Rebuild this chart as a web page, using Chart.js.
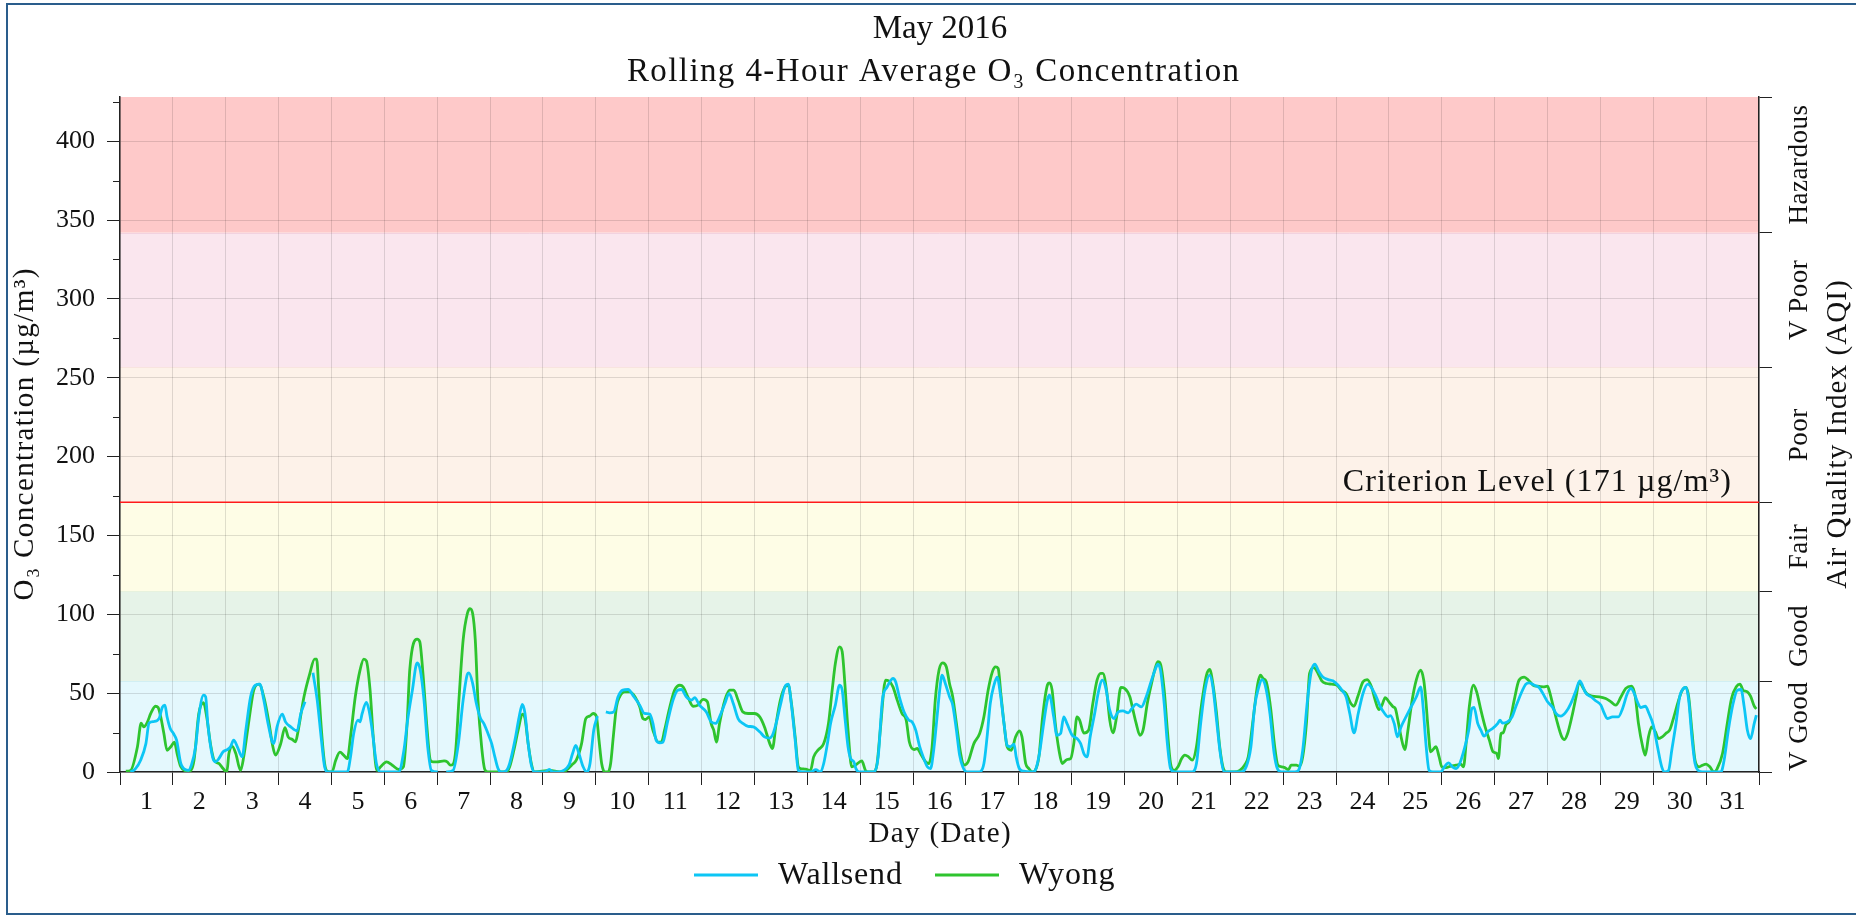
<!DOCTYPE html>
<html>
<head>
<meta charset="utf-8">
<title>May 2016 - Rolling 4-Hour Average O3 Concentration</title>
<script src="https://cdn.jsdelivr.net/npm/chart.js@4.4.0/dist/chart.umd.min.js"></script>
<style>
  html, body { margin: 0; padding: 0; background: #fff; }
  #wrap { position: relative; width: 1856px; height: 917px; }
</style>
</head>
<body>
<div id="wrap"><canvas id="o3chart"></canvas></div>
<script>
// Categories and tick labels
const dayLabels = ['1', '2', '3', '4', '5', '6', '7', '8', '9', '10', '11', '12', '13', '14', '15', '16',
  '17', '18', '19', '20', '21', '22', '23', '24', '25', '26', '27', '28', '29', '30', '31']
const yMajorTicks = [0, 50, 100, 150, 200, 250, 300, 350, 400]
const yMinorTicks = [25, 75, 125, 175, 225, 275, 325, 375, 425]
const yMax = 428

// Air quality index bands (ug/m3)
const aqiLabels = ['V Good', 'Good', 'Fair', 'Poor', 'V Poor', 'Hazardous']
const aqiLimits = [0, 57.5, 114.5, 171, 256.5, 342, 428]
const aqiColors = ['#e4f8fd', '#e6f3e8', '#fefde6', '#fdf2e9', '#fae6ee', '#fec9c9']
const aqiEdges = ['#c8eef8', '#d6ebd9', '#f3f0c8', '#f5e2d2', '#f2d2df', '#f5b5b5']
const criterionLevel = 171

// Wallsend - day of month (fractional) and rolling 4-hour O3 (ug/m3), null = missing
const wallsendDays = [
  0.20, 0.29, 0.39, 0.49, 0.55, 0.64, 0.74, 0.80, 0.85, 0.89, 0.95, 1.01, 1.07, 1.15, 1.21, 1.29, 1.35, 1.43, 1.49, 1.58,
  1.62, 1.66, 1.75, 1.81, 1.87, 1.95, 2.03, 2.09, 2.15, 2.22, 2.31, 2.38, 2.47, 2.56, 2.65, 2.72, 2.80, 2.88, 2.91, 2.97,
  3.07, 3.13, 3.23, 3.35, 3.42, 3.50, 3.58, 3.65, 3.73, 3.81, 3.87, 3.93, 4.30, 4.36, 4.42, 4.50, 4.54, 4.58, 4.66, 4.71,
  4.77, 4.85, 4.93, 5.27, 5.37, 5.44, 5.53, 5.62, 5.68, 5.75, 5.82, 5.89, 6.01, 6.10, 6.17, 6.30, 6.40, 6.49, 6.57, 6.60,
  6.67, 6.74, 6.82, 6.88, 6.96, 7.03, 7.09, 7.15, 7.21, 7.31, 7.37, 7.47, 7.55, 7.61, 7.66, 7.72, 7.78, 7.84, 8.03, 8.12,
  8.19, 8.29, 8.39, 8.49, 8.56, 8.62, 8.68, 8.76, 8.83, 8.89, 8.96, 9.03, 9.10, 9.19, 9.26, 9.34, 9.42, 9.51, 9.61, 9.72,
  9.83, 9.92, 10.02, 10.08, 10.14, 10.21, 10.27, 10.35, 10.46, 10.55, 10.62, 10.71, 10.81, 10.87, 10.96, 11.09, 11.18, 11.27, 11.34, 11.44,
  11.52, 11.60, 11.69, 11.78, 11.88, 11.98, 12.10, 12.19, 12.28, 12.34, 12.41, 12.49, 12.59, 12.64, 12.70, 12.77, 12.83, 12.90, 13.06, 13.16,
  13.25, 13.31, 13.38, 13.44, 13.53, 13.61, 13.66, 13.71, 13.77, 13.82, 13.88, 13.92, 13.98, 14.26, 14.34, 14.42, 14.51, 14.62, 14.67, 14.74,
  14.83, 14.92, 14.98, 15.05, 15.12, 15.18, 15.27, 15.33, 15.39, 15.46, 15.50, 15.55, 15.61, 15.69, 15.75, 15.82, 15.88, 15.94, 16.02, 16.24,
  16.34, 16.40, 16.46, 16.53, 16.59, 16.65, 16.72, 16.78, 16.84, 16.91, 16.95, 17.01, 17.09, 17.25, 17.31, 17.39, 17.47, 17.54, 17.58, 17.66,
  17.72, 17.79, 17.85, 17.91, 18.01, 18.10, 18.17, 18.23, 18.29, 18.35, 18.44, 18.50, 18.58, 18.64, 18.72, 18.80, 18.88, 18.97, 19.07, 19.14,
  19.22, 19.32, 19.41, 19.51, 19.58, 19.63, 19.68, 19.75, 19.81, 19.87, 19.95, 20.27, 20.36, 20.44, 20.52, 20.61, 20.67, 20.74, 20.82, 20.89,
  21.21, 21.30, 21.39, 21.46, 21.54, 21.60, 21.66, 21.75, 21.83, 21.89, 21.97, 22.22, 22.29, 22.37, 22.46, 22.53, 22.60, 22.67, 22.75, 22.85,
  22.94, 23.04, 23.11, 23.19, 23.26, 23.34, 23.42, 23.51, 23.60, 23.68, 23.76, 23.84, 23.92, 23.98, 24.03, 24.10, 24.16, 24.23, 24.33, 24.42,
  24.52, 24.60, 24.65, 24.70, 24.76, 24.83, 24.98, 25.05, 25.13, 25.20, 25.27, 25.34, 25.42, 25.51, 25.57, 25.61, 25.68, 25.74, 25.80, 25.87,
  25.96, 26.06, 26.10, 26.15, 26.24, 26.33, 26.40, 26.50, 26.59, 26.65, 26.75, 26.84, 26.94, 27.00, 27.09, 27.16, 27.25, 27.35, 27.44, 27.54,
  27.61, 27.66, 27.72, 27.82, 27.91, 28.01, 28.07, 28.13, 28.23, 28.34, 28.42, 28.51, 28.58, 28.64, 28.70, 28.76, 28.85, 28.92, 29.00, 29.08,
  29.16, 29.22, 29.29, 29.35, 29.43, 29.50, 29.57, 29.62, 29.67, 29.73, 29.79, 29.85, 29.93, 30.28, 30.34, 30.42, 30.51, 30.59, 30.66, 30.72,
  30.78, 30.84, 30.91, 30.95
]
const wallsendValues = [
  0, 2, 7.5, 18, 31, 32, 34, 41, 42.4, 35, 27.6, 24.4, 20.2, 5.4, 2, 1, 4.3, 16, 35, 48.7,
  47.7, 30.8, 9.6, 6.4, 8.5, 12.8, 14.2, 16, 20.2, 16, 9.6, 26.5, 47.7, 55, 55.7, 45.6, 30.8, 19, 18, 28.6,
  36.7, 31.8, 28.6, 26.1, 37.1, 44.5, null, 62.9, 45.6, 20.2, 3.3, 0, 0, 9.6, 24.4, 32.9, 31.8, 37.1, 44.1, 39.2,
  26.5, 5.4, 0, 0, 13.8, 32.9, 51.9, 69.2, 64.6, 45.6, 16, 1, 0, null, 0, 1, 18, 45.6, 62, 62.9,
  56.2, 43.4, 33.9, 30.8, 24.4, 18, 9.6, 2.2, 0, 1, 5.4, 20.2, 35, 42.8, 37.1, 18, 4.3, 0, 0, 1.6,
  0, 0, 1, 4.3, 11.7, 16.8, 11.7, 3.3, 0, 5.4, 26.5, 35.4, null, 38.1, 37.5, 38.1, 47.7, 51.9, 52.3, 47.7,
  42.4, 37.1, 36.7, 30.8, 20.2, 18.5, 19, 30.8, 45.6, 51.9, 52.3, 47.7, 45.6, 47.2, 42.4, 38.1, 31.8, 30.8, 35, 43.4,
  49.8, 43.4, 33.9, 30.8, 29, 28.6, 25.5, 22.3, 21.5, 23.3, 30.8, 42.4, 55, 55.7, 42.4, 20.2, 1, 0, 0, 1.5,
  0, 5.4, 18, 30.8, 42.4, 55, 51.9, 35, 16, 8.5, 6.4, 2.2, 0, 0, 9.6, 45.6, 54, 59.3, 57.2, 47.7,
  38.1, 32.9, 31.8, 26.5, 16.8, 10.7, 3.3, 2.2, 13.8, 37.1, 50.8, 61.4, 56.1, 47.7, 42.4, 26.5, 10.7, 3.3, 0, 0,
  5.4, 22.3, 43.4, 55, 60.2, 49.8, 30.8, 16.8, 16, 17.7, 9.6, 2.2, 0.5, 0, 1, 11.7, 30.8, 45.6, 48.7, 35,
  23.3, 24.4, 35, 30.8, 23.3, 21.2, 18, 11.7, 9.6, 22.3, 38, 49.8, 58.2, 54, 39.2, 33.9, 38.1, 38.7, 37.5, 40.3,
  43, 41.3, 47.7, 58.2, 65, 68.4, 64.6, 43.4, 18, 2.2, 0, 0, 5.4, 30.8, 51.9, 61.4, 54, 32.9, 9.6, 0,
  0, 3.3, 16, 41.3, 54, 58.6, 55, 37.1, 11.7, 2.2, 0, 0, 1, 13.8, 45.6, 63.5, 68.4, 64, 60.2, 58.6,
  57.8, 55, 51.9, 47.7, 37.1, 24.8, 37.1, 49.8, 55.7, 53, 47.7, 41.3, 37.1, 35, 35.8, 30.8, 22.3, 28.6, 35.4, 41.3,
  47.7, 54, 40, 18, 1, 0, 0, 3.3, 5.8, 3.3, 2.2, 5.4, 13.8, 26.5, 40.3, 40.9, 30.8, 26.5, 22.7, 25.5,
  27.6, 30.8, 32.9, 31, 31.8, 35, 41.3, 49.8, 55.7, 56.5, 55, 53.6, 48.1, 44.5, 41.3, 37.1, 35.4, 38.1, 43.4, 51.9,
  57.8, 55, 50.2, 47.7, 45.2, 42.4, 37.5, 33.9, 35, 35, 40.3, 49.8, 53, 49.8, 44.5, 40.9, 41.7, 37.1, 29.7, 16,
  3.3, 0, 1, 13.8, 30.8, 47.7, 53, 53.6, 45.6, 22.3, 5.4, 1, 0, 0, 7.5, 26.5, 43.4, 51.9, 52.3, 41.3,
  26.5, 21.2, 30.8, 36
]

// Wyong - day of month (fractional) and rolling 4-hour O3 (ug/m3)
const wyongDays = [
  0.11, 0.20, 0.33, 0.40, 0.45, 0.52, 0.58, 0.67, 0.72, 0.77, 0.83, 0.89, 0.96, 1.03, 1.08, 1.15, 1.24, 1.30, 1.40, 1.49,
  1.58, 1.64, 1.71, 1.78, 1.87, 1.95, 2.02, 2.06, 2.12, 2.19, 2.28, 2.34, 2.44, 2.53, 2.63, 2.72, 2.82, 2.88, 2.94, 3.04,
  3.12, 3.18, 3.26, 3.32, 3.36, 3.48, 3.59, 3.68, 3.72, 3.76, 3.81, 3.87, 3.92, 4.01, 4.08, 4.16, 4.23, 4.30, 4.36, 4.45,
  4.54, 4.61, 4.66, 4.73, 4.79, 4.86, 4.93, 5.04, 5.15, 5.27, 5.36, 5.43, 5.48, 5.62, 5.67, 5.73, 5.81, 5.87, 5.92, 6.00,
  6.13, 6.19, 6.25, 6.30, 6.35, 6.41, 6.49, 6.57, 6.62, 6.67, 6.72, 6.77, 6.84, 6.90, 6.96, 7.31, 7.37, 7.45, 7.53, 7.61,
  7.66, 7.72, 7.78, 7.84, 8.13, 8.32, 8.44, 8.54, 8.63, 8.73, 8.81, 8.88, 8.95, 9.01, 9.06, 9.11, 9.17, 9.23, 9.28, 9.33,
  9.39, 9.45, 9.55, 9.64, 9.74, 9.83, 9.89, 9.94, 10.01, 10.08, 10.18, 10.24, 10.30, 10.40, 10.49, 10.59, 10.65, 10.74, 10.84, 10.93,
  11.03, 11.11, 11.18, 11.23, 11.28, 11.34, 11.44, 11.53, 11.61, 11.69, 11.78, 11.88, 12.00, 12.10, 12.19, 12.29, 12.34, 12.41, 12.49, 12.58,
  12.64, 12.70, 12.77, 12.83, 12.87, 12.97, 13.06, 13.12, 13.21, 13.31, 13.40, 13.47, 13.53, 13.61, 13.66, 13.71, 13.77, 13.84, 13.91, 14.03,
  14.10, 14.16, 14.26, 14.32, 14.38, 14.48, 14.54, 14.62, 14.70, 14.79, 14.87, 14.93, 15.02, 15.08, 15.14, 15.24, 15.30, 15.36, 15.42, 15.49,
  15.56, 15.63, 15.69, 15.75, 15.82, 15.90, 15.96, 16.04, 16.15, 16.26, 16.34, 16.42, 16.50, 16.56, 16.61, 16.66, 16.72, 16.78, 16.86, 16.94,
  17.01, 17.06, 17.13, 17.19, 17.26, 17.31, 17.38, 17.45, 17.54, 17.58, 17.63, 17.69, 17.76, 17.82, 17.91, 17.98, 18.04, 18.10, 18.15, 18.23,
  18.32, 18.40, 18.48, 18.55, 18.59, 18.66, 18.72, 18.78, 18.85, 18.93, 19.00, 19.10, 19.16, 19.22, 19.29, 19.35, 19.43, 19.51, 19.57, 19.63,
  19.68, 19.75, 19.81, 19.87, 19.94, 20.01, 20.08, 20.14, 20.21, 20.28, 20.36, 20.45, 20.55, 20.61, 20.67, 20.74, 20.80, 20.86, 20.93, 21.08,
  21.18, 21.27, 21.34, 21.43, 21.52, 21.57, 21.62, 21.68, 21.76, 21.84, 21.90, 21.97, 22.03, 22.10, 22.15, 22.25, 22.31, 22.37, 22.44, 22.50,
  22.58, 22.66, 22.73, 22.82, 22.92, 23.02, 23.10, 23.19, 23.28, 23.34, 23.41, 23.51, 23.59, 23.67, 23.74, 23.81, 23.87, 23.93, 24.00, 24.08,
  24.12, 24.17, 24.23, 24.30, 24.36, 24.44, 24.52, 24.60, 24.66, 24.70, 24.74, 24.79, 24.89, 24.95, 25.00, 25.08, 25.17, 25.27, 25.36, 25.41,
  25.46, 25.52, 25.60, 25.66, 25.74, 25.82, 25.90, 25.97, 26.04, 26.07, 26.12, 26.16, 26.21, 26.29, 26.37, 26.46, 26.56, 26.64, 26.73, 26.81,
  26.92, 27.00, 27.03, 27.11, 27.19, 27.27, 27.32, 27.38, 27.46, 27.54, 27.60, 27.66, 27.74, 27.85, 27.98, 28.10, 28.20, 28.29, 28.39, 28.48,
  28.59, 28.66, 28.72, 28.80, 28.85, 28.91, 28.97, 29.04, 29.10, 29.17, 29.25, 29.31, 29.39, 29.48, 29.55, 29.62, 29.67, 29.73, 29.79, 29.87,
  29.93, 30.00, 30.07, 30.15, 30.21, 30.31, 30.40, 30.48, 30.57, 30.64, 30.70, 30.78, 30.84, 30.91, 30.95
]
const wyongValues = [
  0.5, 1, 16, 31, 28.6, 31.8, 37, 41.7, 41, 35, 24.4, 13.8, 16, 19, 11.7, 3.3, 0.7, 0.5, 7.5, 37,
  43.9, 35, 18, 7.5, 5.4, 2.2, 0, 11.7, 16.4, 11.7, 1, 9.6, 33, 52, 55.7, 47.6, 30.8, 18, 10.7, 18,
  28.2, 22.3, 20.6, 19.1, 24.4, 47.7, 62.4, 71.6, 71.6, 51.9, 26.5, 5.4, 0.5, 0, 7.5, 12.6, 10.7, 8.5, 22.3, 47.7,
  64.6, 71.6, 70.5, 51.9, 22.3, 1, 3.3, 6.4, 4.3, 1.6, 3.3, 30.8, 64.6, 84.3, 82.6, 62.5, 26.5, 7.5, 6.4, 6.4,
  7, 6.4, 4.3, 4.9, 13.8, 45.6, 83.6, 100.5, 103.6, 100.5, 83.6, 45.6, 16, 1.6, 0, 0, 3.3, 13.8, 26.5, 36.7,
  34, 18, 5.4, 0, 1, 0, 1, 4.3, 7.5, 18, 33.9, 35.4, 37.1, 35.4, 20.2, 5.4, 0, 0, 5.4, 22.3,
  41.3, 47.7, 50.8, 50.8, 47.7, 41.3, 33.9, 33.3, 35, 26.5, 19, 19, 26.5, 41.3, 51.9, 55, 54, 47.7, 41.7, 42.4,
  46, 44.5, 30.8, 26.5, 19, 30.8, 45.6, 51.9, 51.9, 45.6, 38.1, 37.1, 37.1, 35, 28.6, 18, 14.9, 30.8, 45.6, 54,
  55, 43.4, 22.3, 3.3, 2.2, 1.8, 1, 9.6, 14.2, 18, 30.8, 51.9, 68.8, 79.4, 76.2, 56.1, 26.5, 3.3, 4.3, 7,
  1, 0, 0, 5.4, 26.5, 58.2, 57.8, 54, 45.6, 37.1, 32.9, 19, 14.2, 14.9, 11.7, 6.4, 5.4, 16, 45.6, 64.5,
  69.2, 66.6, 56, 47.7, 30.8, 11.7, 4.3, 6.4, 18, 24.4, 35, 51.9, 63.5, 66.6, 65.6, 49.8, 30.8, 16, 13.8, 22.3,
  26.1, 22.3, 5.4, 2.2, 0, 1, 9.6, 35, 55, 56.5, 51.9, 30.8, 13.8, 5.4, 7.9, 8.5, 18, 35, 32.9, 24.7,
  26.5, 43.4, 58.2, 62.5, 62.5, 51.9, 32.9, 24.8, 35, 53.6, 53, 47.7, 39.2, 30.8, 23.3, 26.5, 43.4, 56.1, 64.6, 69.9,
  68.4, 51.9, 26.5, 5.4, 1, 3.3, 8.5, 10.7, 9.6, 7.5, 16, 41.3, 61.4, 65, 56.1, 37.1, 16, 3.3, 0, 0,
  1, 4.3, 9.6, 32.9, 56.1, 61.4, 59.3, 57.2, 41.3, 16, 4.3, 3.3, 2.8, 1.5, 4.3, 4.3, 3.7, 9.6, 30.8, 62.5,
  66.2, 62.5, 57.8, 56.1, 55.7, 55, 51.9, 49.8, 43.4, 41.7, 47.7, 57.2, 58.6, 54, 45.6, 39.6, 42.4, 47.2, 44.5, 41.3,
  40.3, 32.9, 22.3, 14.2, 26.5, 45.6, 58.6, 64.6, 58, 45, 28, 12.8, 16, 9.6, 3.3, 2.8, 3.7, 4.3, 5, 3.3,
  18, 41.3, 55, 50.8, 39.2, 28.6, 20.2, 12.8, 11.7, 8.5, 24.4, 24.8, 29.7, 32.9, 45.6, 58.2, 60.2, 58.2, 55, 54.4,
  54, 54.4, 51.9, 41.3, 30.8, 22.3, 20.6, 24.4, 35, 47.7, 57.2, 54, 49.8, 48.1, 47.7, 46.6, 44.5, 42.4, 47.7, 53,
  54.4, 47.7, 30.8, 16, 10.7, 22.3, 28.6, 25.5, 21.2, 22.3, 24.8, 26.5, 35, 45.6, 51.9, 53.6, 47.7, 26.5, 7.5, 3.3,
  4.3, 5, 3.3, 0, 2.2, 11.7, 30.8, 46.6, 54, 55.7, 51.9, 50.8, 48.1, 41.7, 40
]

const SERIF = '"Liberation Serif", "DejaVu Serif", serif'
const GRID = 'rgba(0, 0, 0, 0.12)'
const AXIS = '#222'

function font(size) {
  return size + 'px ' + SERIF
}

function toPoints(days, values) {
  return days.map((d, i) => ({ x: d, y: values[i] }))
}

// the reference typeface is wider than Liberation Serif, so open the spacing a little
function spacedText(ctx, text, x, y, spacing) {
  ctx.letterSpacing = spacing + 'px'
  ctx.fillText(text, x + (ctx.textAlign === 'center' ? spacing / 2 : 0), y)
  ctx.letterSpacing = '0px'
}

// Bands, criterion line, titles, AQI labels, legend and frame
const aqiDecor = {
  id: 'aqiDecor',
  beforeDraw(chart) {
    const { ctx, chartArea: a } = chart
    const y = chart.scales.y
    ctx.save()
    ctx.fillStyle = '#fff'
    ctx.fillRect(0, 0, chart.width, chart.height)
    aqiLabels.forEach((label, i) => {
      const top = y.getPixelForValue(aqiLimits[i + 1])
      const bottom = y.getPixelForValue(aqiLimits[i])
      ctx.fillStyle = aqiColors[i]
      ctx.fillRect(a.left, top, a.right - a.left, bottom - top)
      if (i < aqiLabels.length - 1) {
        ctx.strokeStyle = aqiEdges[i]
        ctx.lineWidth = 1
        ctx.beginPath()
        ctx.moveTo(a.left, Math.round(top) + 0.5)
        ctx.lineTo(a.right, Math.round(top) + 0.5)
        ctx.stroke()
      }
    })
    ctx.restore()
  },
  beforeDatasetsDraw(chart) {
    const { ctx, chartArea: a } = chart
    const yc = chart.scales.y.getPixelForValue(criterionLevel)
    ctx.save()
    ctx.strokeStyle = '#ff1a1a'
    ctx.lineWidth = 1.5
    ctx.beginPath()
    ctx.moveTo(a.left, yc)
    ctx.lineTo(a.right, yc)
    ctx.stroke()
    ctx.fillStyle = '#111'
    ctx.font = font(32)
    ctx.textAlign = 'right'
    ctx.textBaseline = 'alphabetic'
    spacedText(ctx, 'Criterion Level (' + criterionLevel + ' \u00b5g/m\u00b3)', 1732, yc - 11, 1.1)
    ctx.restore()
  },
  afterDraw(chart) {
    const { ctx, chartArea: a } = chart
    const y = chart.scales.y
    const midY = (a.top + a.bottom) / 2
    ctx.save()
    ctx.fillStyle = '#111'

    // minor y ticks (shorter than the labelled ones)
    ctx.strokeStyle = AXIS
    ctx.lineWidth = 1
    yMinorTicks.forEach(v => {
      const py = Math.round(y.getPixelForValue(v)) + 0.5
      ctx.beginPath()
      ctx.moveTo(a.left - 7, py)
      ctx.lineTo(a.left, py)
      ctx.stroke()
    })

    // titles
    ctx.textAlign = 'center'
    ctx.textBaseline = 'middle'
    ctx.font = font(33)
    spacedText(ctx, 'May 2016', 940, 29, 0)
    spacedText(ctx, 'Rolling 4-Hour Average O\u2083 Concentration', 933, 72, 1.4)

    // axis titles
    ctx.font = font(29)
    spacedText(ctx, 'Day (Date)', (a.left + a.right) / 2, 834, 1.4)

    ctx.save()
    ctx.translate(25, midY)
    ctx.rotate(-Math.PI / 2)
    spacedText(ctx, 'O\u2083 Concentration (\u00b5g/m\u00b3)', 0, 0, 1.4)
    ctx.restore()

    ctx.save()
    ctx.translate(1838, midY)
    ctx.rotate(-Math.PI / 2)
    spacedText(ctx, 'Air Quality Index (AQI)', 0, 0, 1.1)
    ctx.restore()

    // AQI category labels on the right axis
    ctx.font = font(27)
    aqiLabels.forEach((label, i) => {
      const cy = y.getPixelForValue((aqiLimits[i] + aqiLimits[i + 1]) / 2)
      ctx.save()
      ctx.translate(1800, cy)
      ctx.rotate(-Math.PI / 2)
      spacedText(ctx, label, 0, 0, 0.5)
      ctx.restore()
    })

    // legend
    const legendX = [694, 935]
    ctx.font = font(32)
    ctx.textAlign = 'left'
    chart.data.datasets.forEach((ds, i) => {
      ctx.strokeStyle = ds.borderColor
      ctx.lineWidth = 3
      ctx.beginPath()
      ctx.moveTo(legendX[i], 875)
      ctx.lineTo(legendX[i] + 64, 875)
      ctx.stroke()
      ctx.fillStyle = '#111'
      spacedText(ctx, ds.label, legendX[i] + 84, 876, 0.8)
    })

    // outer frame
    ctx.strokeStyle = '#2a5d8c'
    ctx.lineWidth = 2
    ctx.strokeRect(7, 4, 1900, 910)
    ctx.restore()
  }
}

const ctx = document.getElementById('o3chart')
new Chart(ctx, {
  type: 'line',
  data: {
    datasets: [{
      label: 'Wallsend',
      data: toPoints(wallsendDays, wallsendValues),
      borderColor: '#0cc6f5',
      borderWidth: 2.8,
      pointRadius: 0,
      tension: 0.4,
      cubicInterpolationMode: 'monotone',
      spanGaps: false
    }, {
      label: 'Wyong',
      data: toPoints(wyongDays, wyongValues),
      borderColor: '#2ec42e',
      borderWidth: 2.8,
      pointRadius: 0,
      tension: 0.4,
      cubicInterpolationMode: 'monotone',
      spanGaps: false
    }]
  },
  options: {
    responsive: true,
    maintainAspectRatio: false,
    animation: false,
    events: [],
    layout: {
      padding: { top: 97, left: 0, right: 0, bottom: 0 }
    },
    plugins: {
      legend: { display: false },
      title: { display: false },
      tooltip: { enabled: false }
    },
    scales: {
      x: {
        type: 'linear',
        min: 0,
        max: dayLabels.length,
        afterBuildTicks: scale => {
          const ticks = []
          dayLabels.forEach((label, i) => {
            ticks.push({ value: i })
            ticks.push({ value: i + 0.5 })
          })
          ticks.push({ value: dayLabels.length })
          scale.ticks = ticks
        },
        afterFit: scale => { scale.height = 145 },
        ticks: {
          autoSkip: false,
          maxRotation: 0,
          padding: 2,
          color: '#111',
          font: { family: SERIF, size: 26 },
          callback: value => Number.isInteger(value) ? '' : dayLabels[Math.floor(value)]
        },
        grid: {
          color: c => (c.tick && Number.isInteger(c.tick.value)) ? GRID : 'rgba(0,0,0,0)',
          tickColor: c => (c.tick && Number.isInteger(c.tick.value)) ? AXIS : 'rgba(0,0,0,0)',
          tickLength: 13,
          lineWidth: 1
        },
        border: { display: true, color: AXIS, width: 1.5 }
      },
      y: {
        type: 'linear',
        position: 'left',
        min: 0,
        max: yMax,
        afterBuildTicks: scale => {
          scale.ticks = yMajorTicks.concat(yMinorTicks).sort((p, q) => p - q).map(v => ({ value: v }))
        },
        afterFit: scale => { scale.width = 120 },
        ticks: {
          autoSkip: false,
          padding: 12,
          color: '#111',
          font: { family: SERIF, size: 26 },
          callback: value => yMajorTicks.includes(value) ? String(value) : ''
        },
        grid: {
          color: c => (c.tick && yMajorTicks.includes(c.tick.value)) ? GRID : 'rgba(0,0,0,0)',
          tickColor: c => (c.tick && yMajorTicks.includes(c.tick.value)) ? AXIS : 'rgba(0,0,0,0)',
          tickLength: 13
        },
        border: { display: true, color: AXIS, width: 1.5 }
      },
      aqi: {
        type: 'linear',
        position: 'right',
        min: 0,
        max: yMax,
        afterBuildTicks: scale => {
          scale.ticks = aqiLimits.map(v => ({ value: v }))
        },
        afterFit: scale => { scale.width = 97 },
        ticks: {
          autoSkip: false,
          callback: () => ''
        },
        grid: {
          drawOnChartArea: false,
          tickColor: AXIS,
          tickLength: 13
        },
        border: { display: true, color: AXIS, width: 1.5 }
      }
    }
  },
  plugins: [aqiDecor]
})
</script>
</body>
</html>
